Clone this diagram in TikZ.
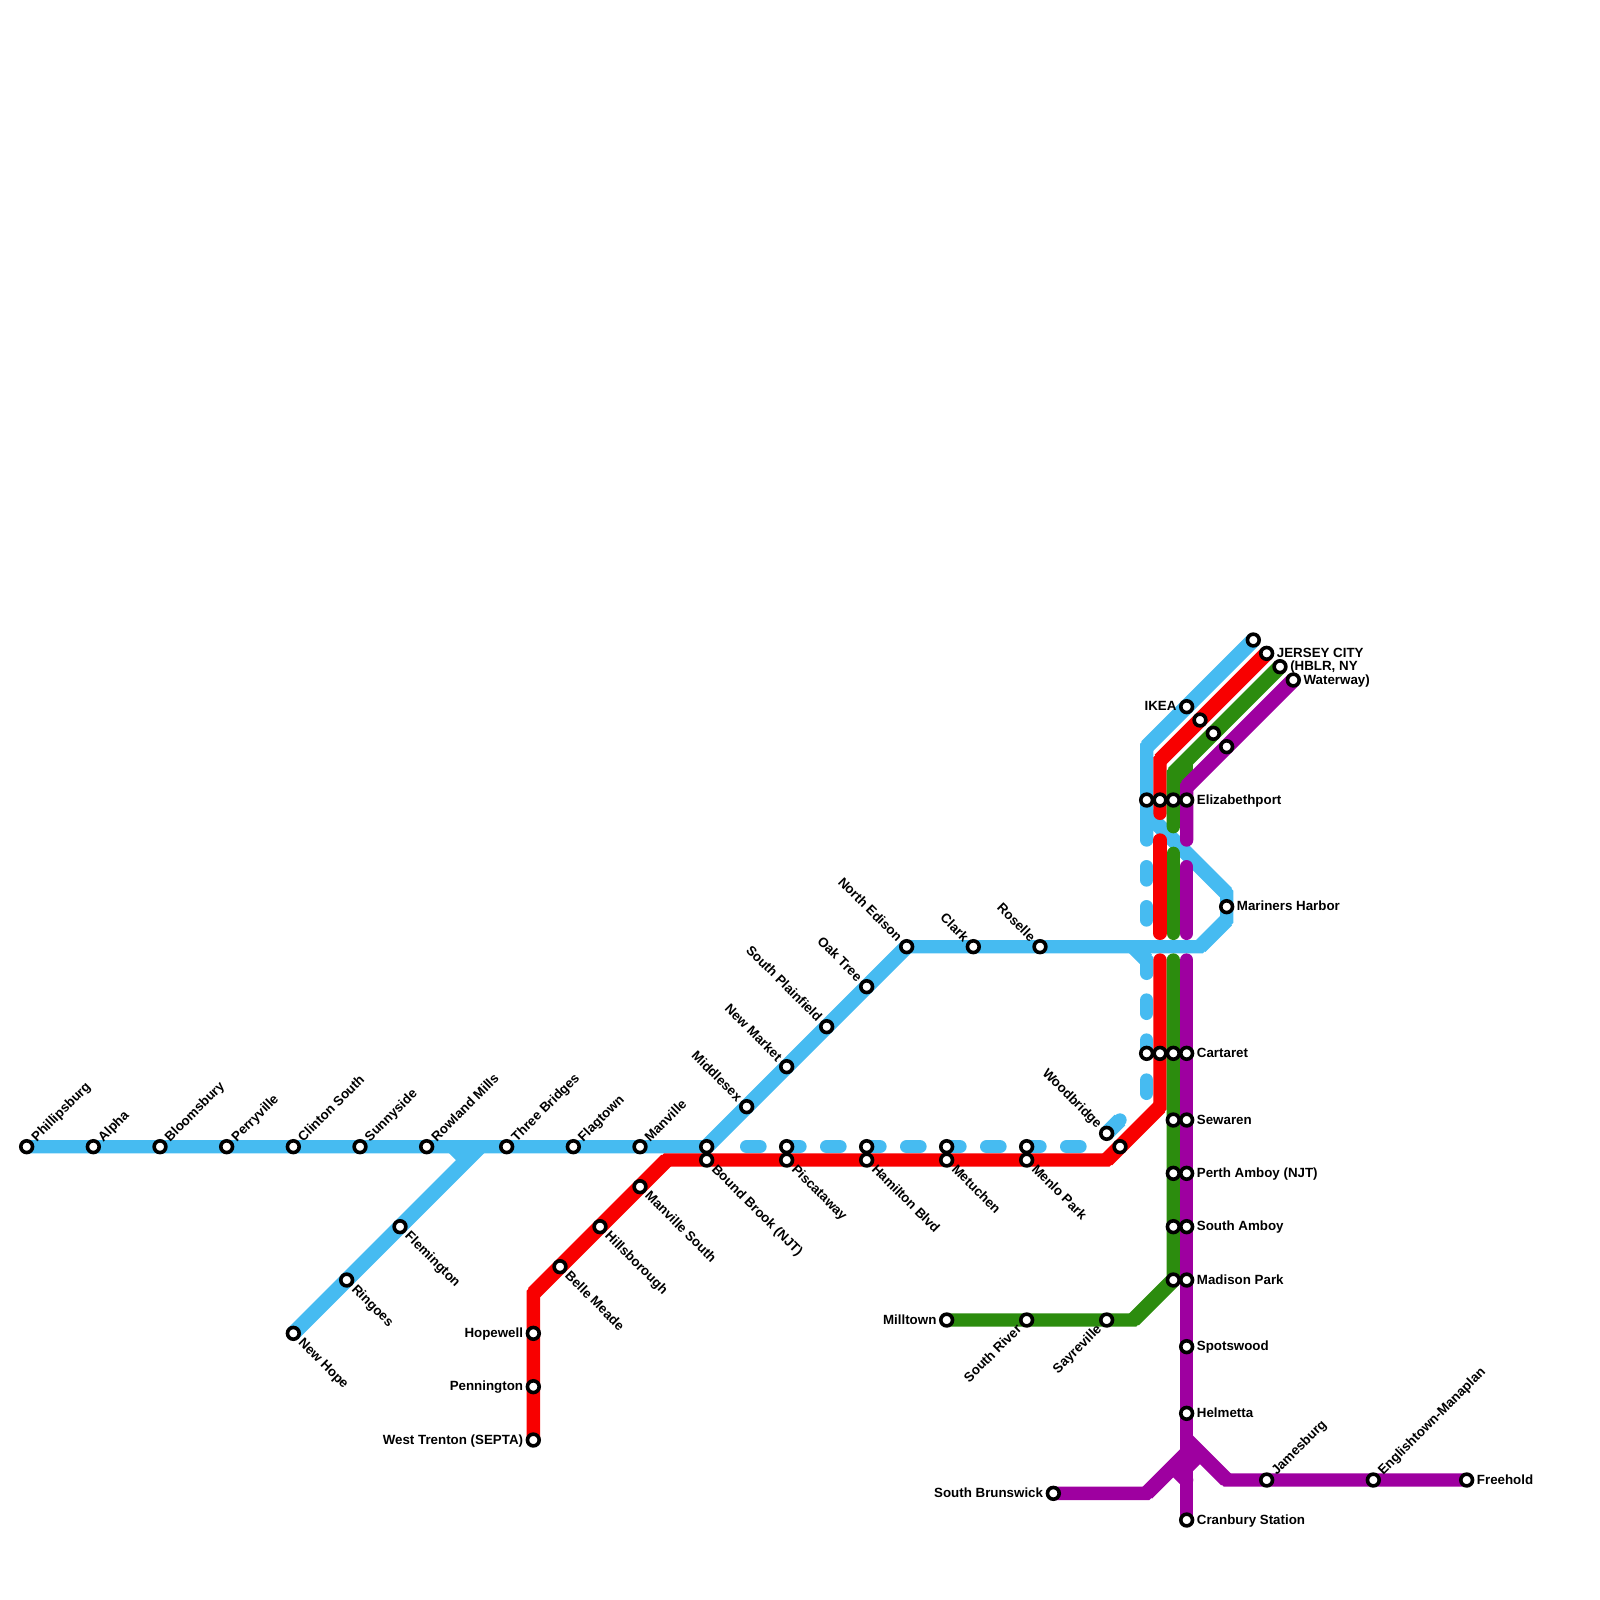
\documentclass[tikz,border=0pt]{standalone}
\usepackage{fontspec}
\setmainfont{Liberation Sans}
\usetikzlibrary{backgrounds}
\definecolor{lineblue}{HTML}{46BBF1}
\definecolor{linered}{HTML}{F80000}
\definecolor{linegreen}{HTML}{2C8C0E}
\definecolor{linepurple}{HTML}{9E00A0}
\tikzset{
  stn/.style={circle,draw=black,fill=white,line width=0.27mm,minimum size=0.88mm,inner sep=0pt},
  lbl/.style={font=\bfseries\fontsize{2.845}{3}\selectfont,inner xsep=0.7mm,inner ysep=0pt,text height=0.6mm,text depth=0mm},
  lblr/.style={lbl,anchor=west},
  lbll/.style={lbl,anchor=east},
  lblur/.style={lbl,anchor=west,rotate=45},
  lbldr/.style={lbl,anchor=west,rotate=-45},
  lblul/.style={lbl,anchor=east,rotate=-45},
  lbldl/.style={lbl,anchor=east,rotate=45},
  route/.style={line width=1mm,line cap=round,line join=miter},
  slant/.style={line width=1.13mm,line cap=butt},
  dashes/.style={route,dash pattern=on 1mm off 2mm}
}
\begin{document}
\begin{tikzpicture}[x=1mm,y=-1mm]
  \useasboundingbox (0,0) rectangle (120,120);
  % stations with a label
  \foreach \nm/\x/\y/\sd/\txt in {
    phil/2/86/lblur/Phillipsburg, alpha/7/86/lblur/Alpha, bloom/12/86/lblur/Bloomsbury,
    perry/17/86/lblur/Perryville, clinton/22/86/lblur/Clinton South, sunny/27/86/lblur/Sunnyside,
    rowland/32/86/lblur/Rowland Mills, three/38/86/lblur/Three Bridges, flag/43/86/lblur/Flagtown,
    manv/48/86/lblur/Manville, james/95/111/lblur/Jamesburg, engl/103/111/lblur/Englishtown-Manaplan,
    flem/30/92/lbldr/Flemington, ring/26/96/lbldr/Ringoes, hope/22/100/lbldr/New Hope,
    bound/53/87/lbldr/Bound Brook (NJT), pisc/59/87/lbldr/Piscataway, hamil/65/87/lbldr/Hamilton Blvd,
    metu/71/87/lbldr/Metuchen, menlo/77/87/lbldr/Menlo Park, manvs/48/89/lbldr/Manville South,
    hills/45/92/lbldr/Hillsborough, belle/42/95/lbldr/Belle Meade,
    middle/56/83/lblul/Middlesex, market/59/80/lblul/New Market, plain/62/77/lblul/South Plainfield,
    oak/65/74/lblul/Oak Tree, edison/68/71/lblul/North Edison, clark/73/71/lblul/Clark,
    roselle/78/71/lblul/Roselle, wood/83/85/lblul/Woodbridge,
    river/77/99/lbldl/South River, sayre/83/99/lbldl/Sayreville,
    hopew/40/100/lbll/Hopewell, penn/40/104/lbll/Pennington, trent/40/108/lbll/West Trenton (SEPTA),
    mill/71/99/lbll/Milltown, brun/79/112/lbll/South Brunswick, ikea/89/53/lbll/IKEA,
    jcred/95/49/lblr/JERSEY CITY, jcgreen/96/50/lblr/{(HBLR, NY}, jcpurple/97/51/lblr/Waterway),
    elizp/89/60/lblr/Elizabethport, harbor/92/68/lblr/Mariners Harbor, cartp/89/79/lblr/Cartaret,
    sewp/89/84/lblr/Sewaren, perthp/89/88/lblr/Perth Amboy (NJT), ambp/89/92/lblr/South Amboy,
    madp/89/96/lblr/Madison Park, spots/89/101/lblr/Spotswood, helm/89/106/lblr/Helmetta,
    cran/89/114/lblr/Cranbury Station, free/110/111/lblr/Freehold}
    {\node[stn] (\nm) at (\x,\y) {};
     \node[\sd] (\nm-l) at (\nm) {\txt};}
  % stations with no label
  \foreach \nm/\x/\y in {
    jcblue/94/48, ikr/90/54, ikg/91/55, ikp/92/56, elizb/86/60, elizr/87/60, elizg/88/60,
    cartb/86/79, cartr/87/79, cartg/88/79, sewg/88/84, perthg/88/88, ambg/88/92, madg/88/96,
    boundb/53/86, piscb/59/86, hamilb/65/86, metub/71/86, menlob/77/86, woodr/84/86}
    {\node[stn] (\nm) at (\x,\y) {};}
  % bends
  \coordinate (b1) at (36,86); \coordinate (b2) at (34,86); \coordinate (b3) at (35,87);
  \coordinate (b4) at (90,71); \coordinate (b5) at (92,69); \coordinate (b6) at (92,67);
  \coordinate (b7) at (86,61); \coordinate (b8) at (86,56); \coordinate (b9) at (86,63);
  \coordinate (b10) at (85,71); \coordinate (b11) at (86,72); \coordinate (b12) at (86,73);
  \coordinate (r1) at (87,57); \coordinate (r2) at (87,61); \coordinate (r3) at (87,63);
  \coordinate (r4) at (87,70); \coordinate (r5) at (87,72); \coordinate (r6) at (87,83);
  \coordinate (r7) at (83,87); \coordinate (r8) at (50,87); \coordinate (r9) at (40,97);
  \coordinate (g1) at (88,58); \coordinate (g2) at (88,62); \coordinate (g3) at (88,64);
  \coordinate (g4) at (88,70); \coordinate (g5) at (88,72); \coordinate (g6) at (85,99);
  \coordinate (g7) at (89,57); \coordinate (g8) at (89,59);
  \coordinate (p1) at (89,59); \coordinate (p2) at (89,63); \coordinate (p3) at (89,65);
  \coordinate (p4) at (89,70); \coordinate (p5) at (89,72); \coordinate (p6) at (89,110);
  \coordinate (p7) at (90,109); \coordinate (p8) at (89,108); \coordinate (p9) at (92,111);
  \coordinate (p10) at (86,112); \coordinate (p11) at (89,109); \coordinate (p12) at (88,110);
  \coordinate (p13) at (89,111);
  % dash ends
  \coordinate (d1) at (56,86); \coordinate (d2) at (81,86); \coordinate (d3) at (84,84);
  \coordinate (d4) at (86,65); \coordinate (d5) at (86,69); \coordinate (d6) at (86,75);
  \coordinate (d7) at (86,82);
  \begin{scope}[on background layer]
    % blue
    \draw[route,lineblue] (phil.center) -- (boundb.center) -- (edison.center) -- (b4) -- (b5) -- (b6) -- (b7);
    \draw[route,lineblue] (hope.center) -- (b1);
    \draw[route,lineblue] (b2) -- (b3);
    \draw[route,lineblue] (jcblue.center) -- (b8) -- (b9);
    \draw[route,lineblue] (b10) -- (b11) -- (b12);
    \draw[dashes,lineblue] (d1) -- (d2);
    \draw[route,lineblue] (wood.center) -- (d3);
    \draw[dashes,lineblue] (d4) -- (d5);
    \draw[dashes,lineblue] (d6) -- (d7);
    \foreach \a/\b in {boundb/edison, b4/b5, b6/b7, hope/b1, b2/b3, jcblue/b8, b10/b11, wood/d3}
      \draw[slant,lineblue] (\a.center) -- (\b.center);
    % red
    \draw[route,linered] (jcred.center) -- (r1) -- (r2);
    \draw[route,linered] (r3) -- (r4);
    \draw[route,linered] (r5) -- (r6) -- (r7) -- (r8) -- (r9) -- (trent.center);
    \foreach \a/\b in {jcred/r1, r6/r7, r8/r9}
      \draw[slant,linered] (\a.center) -- (\b.center);
    % green
    \draw[route,linegreen] (jcgreen.center) -- (g1) -- (g2);
    \draw[route,linegreen] (g7) -- (g8);
    \draw[route,linegreen] (g3) -- (g4);
    \draw[route,linegreen] (g5) -- (madg.center) -- (g6) -- (mill.center);
    \foreach \a/\b in {jcgreen/g1, madg/g6}
      \draw[slant,linegreen] (\a.center) -- (\b.center);
    % purple
    \draw[route,linepurple] (jcpurple.center) -- (p1) -- (p2);
    \draw[route,linepurple] (p3) -- (p4);
    \draw[route,linepurple] (p5) -- (cran.center);
    \draw[route,linepurple] (p6) -- (p7);
    \draw[route,linepurple] (p8) -- (p9) -- (free.center);
    \draw[route,linepurple] (brun.center) -- (p10) -- (p11);
    \draw[route,linepurple] (p12) -- (p13);
    \foreach \a/\b in {jcpurple/p1, p6/p7, p8/p9, p10/p11, p12/p13}
      \draw[slant,linepurple] (\a.center) -- (\b.center);
  \end{scope}
\end{tikzpicture}
\end{document}
